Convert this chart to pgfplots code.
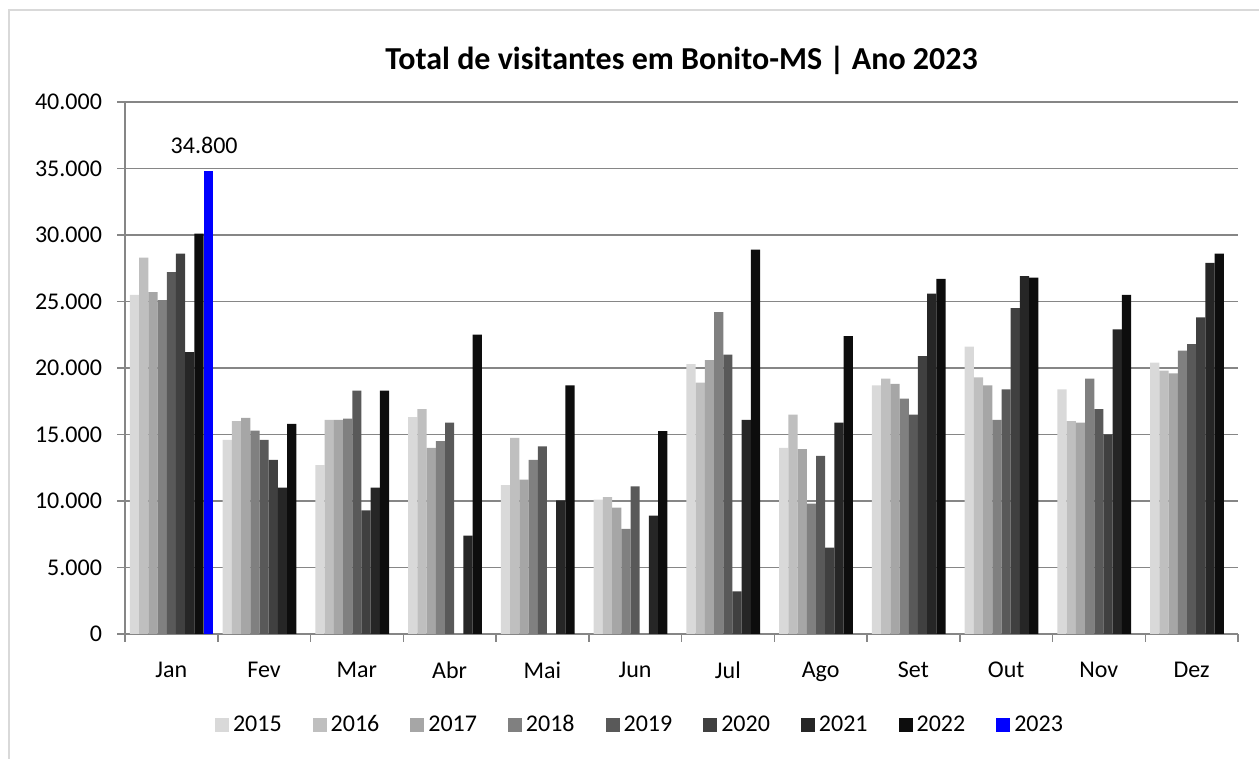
\documentclass[border=0pt]{standalone}
\usepackage{fontspec}
\setmainfont{Carlito}
\usepackage{pgfplots}
\usepackage{pgfplotstable}
\pgfplotsset{compat=1.18}
\usepackage{xcolor}
\definecolor{c15}{HTML}{D9D9D9}
\definecolor{c16}{HTML}{BFBFBF}
\definecolor{c17}{HTML}{A6A6A6}
\definecolor{c18}{HTML}{808080}
\definecolor{c19}{HTML}{595959}
\definecolor{c20}{HTML}{404040}
\definecolor{c21}{HTML}{262626}
\definecolor{c22}{HTML}{0D0D0D}
\definecolor{c23}{HTML}{0000FF}
\definecolor{gridgray}{HTML}{868686}
\definecolor{framegray}{HTML}{D9D9D9}

% visitors per month, one column per year (nan = no bar)
\pgfplotstableread{
x  y2015 y2016 y2017 y2018 y2019 y2020 y2021 y2022
0  25500 28300 25700 25100 27200 28600 21200 30100
1  14600 16000 16250 15300 14600 13100 11000 15800
2  12700 16100 16100 16200 18300 9300  11000 18300
3  16300 16900 14000 14500 15900 nan   7400  22500
4  11200 14750 11600 13100 14100 nan   10050 18700
5  10100 10300 9500  7900  11100 nan   8900  15250
6  20300 18900 20600 24200 21000 3200  16100 28900
7  14000 16500 13900 9800  13400 6500  15900 22400
8  18700 19200 18800 17700 16500 20900 25600 26700
9  21600 19300 18700 16100 18400 24500 26900 26800
10 18400 16000 15900 19200 16900 15000 22900 25500
11 20400 19800 19600 21300 21800 23800 27900 28600
}\visitas

\begin{document}
\begin{tikzpicture}
  \useasboundingbox (0,0) rectangle (629.5pt,379.5pt);
  \draw[framegray, line width=1pt] (4.5pt,0pt) -- (4.5pt,374.5pt) -- (629.5pt,374.5pt);
  \begin{axis}[
      at={(62.5pt,62.5pt)}, anchor=south west,
      scale only axis,
      width=556.5pt, height=266pt,
      ybar=0pt, bar width=4.6pt,
      xmin=-0.5, xmax=11.5,
      ymin=0, ymax=40000,
      ytick={0,5000,...,40000},
      scaled y ticks=false,
      xtick={0,...,11},
      xticklabels={Jan,Fev,Mar,Abr,Mai,Jun,Jul,Ago,Set,Out,Nov,Dez},
      minor xtick={-0.5,0.5,...,11.5},
      major x tick style={draw=none},
      tick align=outside,
      major tick length=4pt, minor tick length=4pt,
      axis x line*=bottom, axis y line*=left,
      axis line style={gridgray, line width=0.75pt, -},
      every tick/.style={gridgray, line width=0.75pt},
      ymajorgrids=true,
      grid style={gridgray, line width=0.75pt},
      tick label style={font=\fontsize{12}{14}\selectfont, text=black},
      /pgf/number format/assume math mode=true,
      yticklabel style={xshift=-4pt, /pgf/number format/.cd, fixed, 1000 sep={.}},
      xticklabel style={yshift=-6.5pt},
      title={\textbf{Total de visitantes em Bonito-MS | Ano 2023}},
      title style={font=\fontsize{16}{19}\selectfont, at={(0.5,1)}, anchor=center, yshift=15pt},
      legend columns=9,
      legend style={draw=none, at={(0.4636,-0.171)}, anchor=center,
        font=\fontsize{12}{14}\selectfont,
        /tikz/every even column/.append style={column sep=13.5pt}},
      legend image code/.code={\fill[#1] (0pt,-3.5pt) rectangle (7pt,3.5pt);},
    ]
    \addplot[fill=c15, draw=none] table[x=x, y=y2015] {\visitas};
    \addplot[fill=c16, draw=none] table[x=x, y=y2016] {\visitas};
    \addplot[fill=c17, draw=none] table[x=x, y=y2017] {\visitas};
    \addplot[fill=c18, draw=none] table[x=x, y=y2018] {\visitas};
    \addplot[fill=c19, draw=none] table[x=x, y=y2019] {\visitas};
    \addplot[fill=c20, draw=none] table[x=x, y=y2020] {\visitas};
    \addplot[fill=c21, draw=none] table[x=x, y=y2021] {\visitas};
    \addplot[fill=c22, draw=none] table[x=x, y=y2022] {\visitas};
    \addplot[fill=c23, draw=none,
      nodes near coords,
      nodes near coords style={font=\fontsize{12}{14}\selectfont, text=black, yshift=5pt, xshift=-2pt,
        /pgf/number format/.cd, fixed, 1000 sep={.}, assume math mode=true}]
      coordinates {(0,34800)};
    \legend{2015,2016,2017,2018,2019,2020,2021,2022,2023}
  \end{axis}
\end{tikzpicture}
\end{document}
